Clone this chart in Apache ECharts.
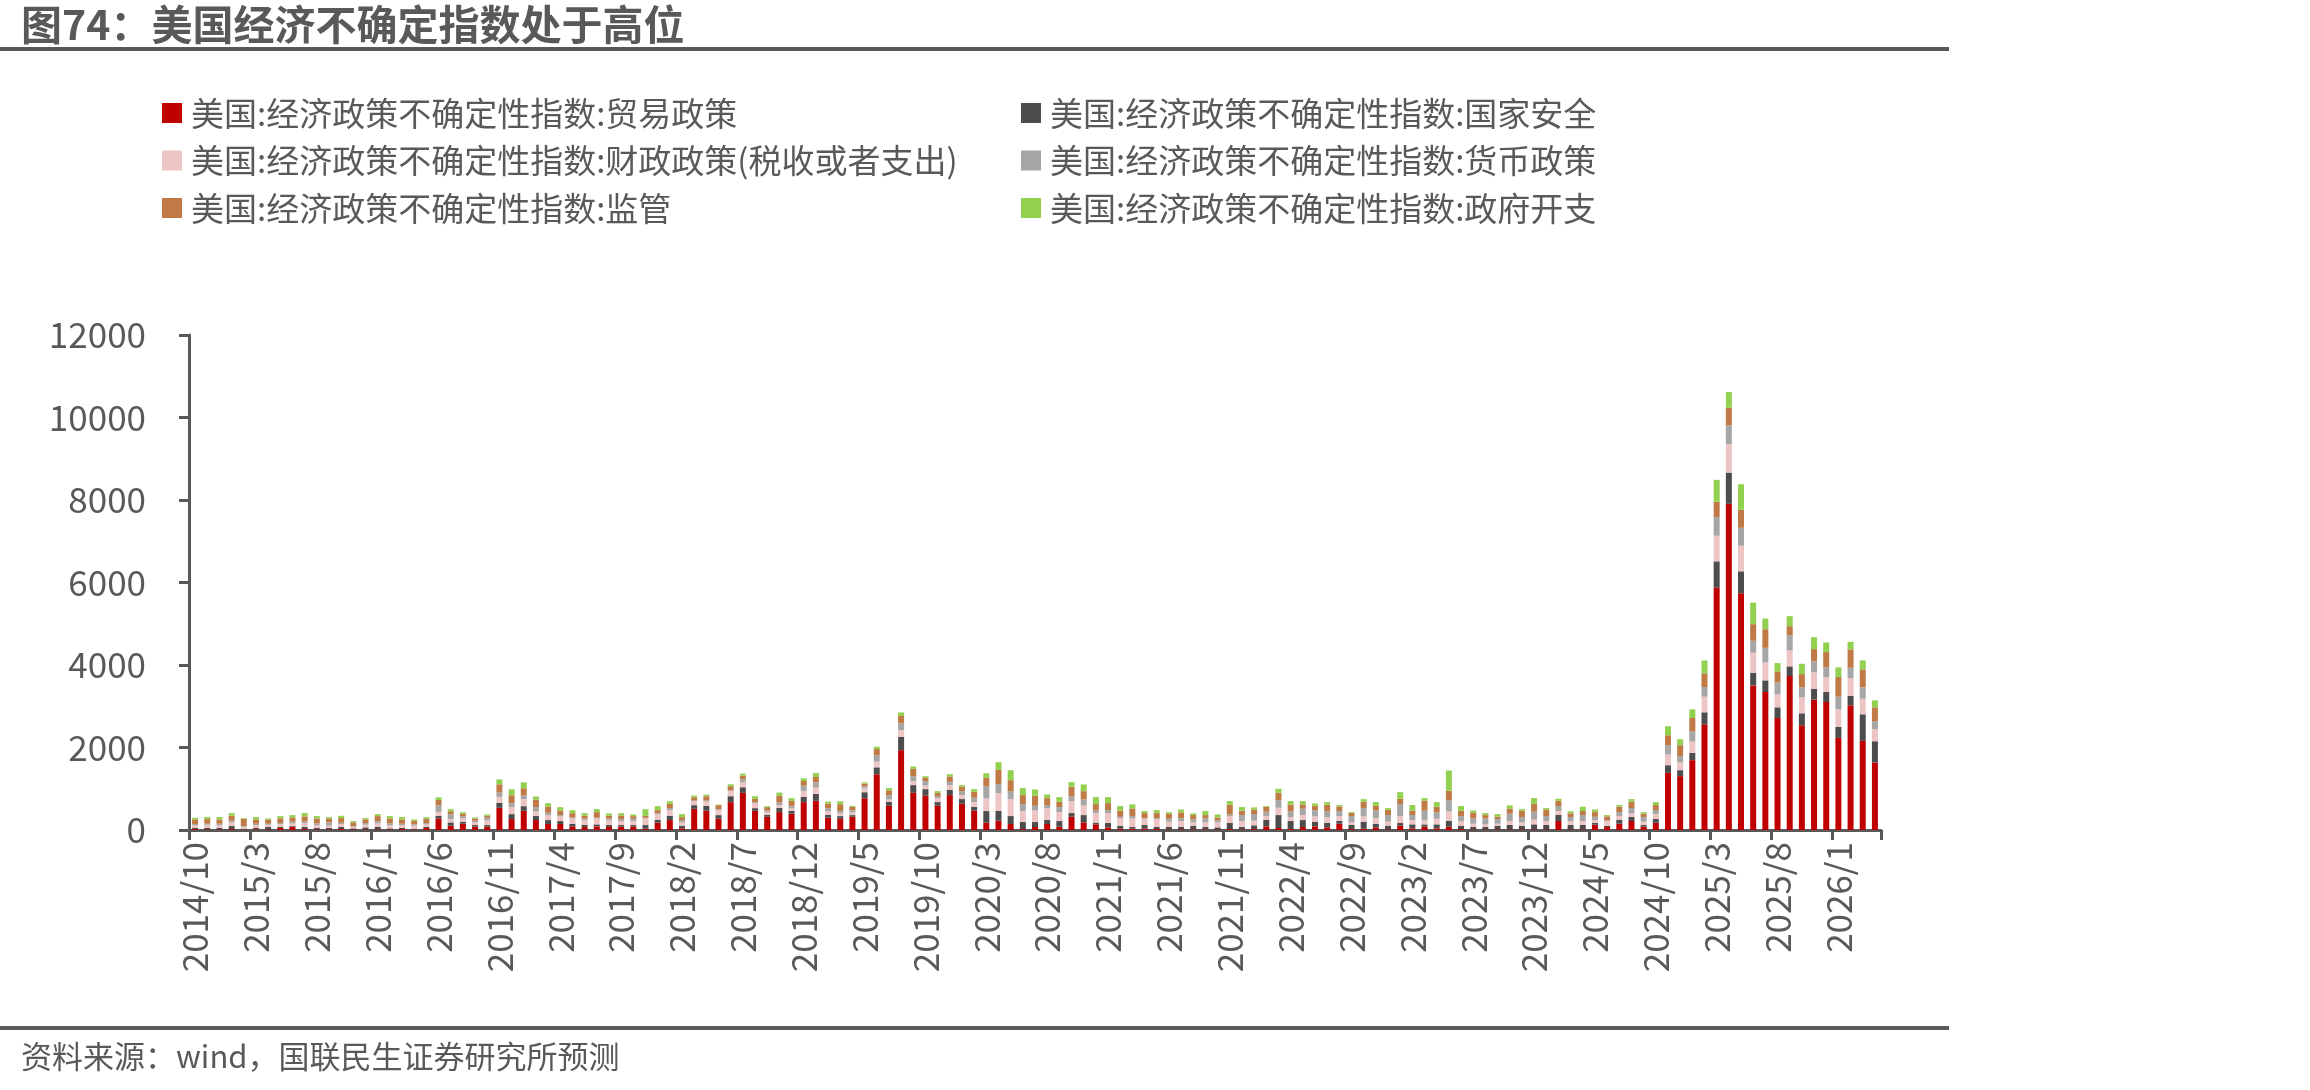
<!DOCTYPE html>
<html>
<head>
<meta charset="utf-8">
<script src="https://cdn.jsdelivr.net/npm/echarts@6/dist/echarts.min.js"></script>
<style>
  html, body { margin: 0; padding: 0; background: #fff; }
  #chart-ctn { width: 2310px; height: 1090px; }
</style>
</head>
<body>
<div id="chart-ctn"></div>
<script>
var months = [
  '2014/10','2014/11','2014/12',
  '2015/1','2015/2','2015/3','2015/4','2015/5','2015/6','2015/7','2015/8','2015/9','2015/10','2015/11','2015/12',
  '2016/1','2016/2','2016/3','2016/4','2016/5','2016/6','2016/7','2016/8','2016/9','2016/10','2016/11','2016/12',
  '2017/1','2017/2','2017/3','2017/4','2017/5','2017/6','2017/7','2017/8','2017/9','2017/10','2017/11','2017/12',
  '2018/1','2018/2','2018/3','2018/4','2018/5','2018/6','2018/7','2018/8','2018/9','2018/10','2018/11','2018/12',
  '2019/1','2019/2','2019/3','2019/4','2019/5','2019/6','2019/7','2019/8','2019/9','2019/10','2019/11','2019/12',
  '2020/1','2020/2','2020/3','2020/4','2020/5','2020/6','2020/7','2020/8','2020/9','2020/10','2020/11','2020/12',
  '2021/1','2021/2','2021/3','2021/4','2021/5','2021/6','2021/7','2021/8','2021/9','2021/10','2021/11','2021/12',
  '2022/1','2022/2','2022/3','2022/4','2022/5','2022/6','2022/7','2022/8','2022/9','2022/10','2022/11','2022/12',
  '2023/1','2023/2','2023/3','2023/4','2023/5','2023/6','2023/7','2023/8','2023/9','2023/10','2023/11','2023/12',
  '2024/1','2024/2','2024/3','2024/4','2024/5','2024/6','2024/7','2024/8','2024/9','2024/10','2024/11','2024/12',
  '2025/1','2025/2','2025/3','2025/4','2025/5','2025/6','2025/7','2025/8','2025/9','2025/10','2025/11','2025/12',
  '2026/1','2026/2','2026/3','2026/4'
];

// 贸易政策
var tradeData = [
  24,16,16,24,8,16,16,48,80,24,16,16,24,16,16,16,16,24,16,48,
  280,104,152,80,80,538,265,466,241,145,145,88,72,88,72,
  80,80,32,177,241,40,514,466,273,675,900,466,321,434,394,675,707,297,273,321,771,1350,586,1935,903,830,588,846,637,467,177,226,145,24,
  72,145,80,322,185,137,64,32,32,32,24,16,16,16,16,16,24,16,24,89,48,24,72,89,64,153,24,32,64,16,105,40,80,40,80,
  24,16,16,16,16,16,16,16,218,16,16,129,72,153,218,80,177,
  1386,1306,1693,2563,5876,7907,5739,3506,3345,2716,3732,2539,3160,3103,2233,3023,2160,1636
];
// 国家安全
var securityData = [
  24,32,32,72,24,40,56,24,16,48,32,32,48,24,48,64,24,24,16,24,
  64,80,48,40,40,120,120,112,104,96,72,64,56,48,48,
  40,40,88,72,104,64,88,120,88,145,137,64,48,104,72,128,169,72,64,40,145,169,96,320,185,161,89,129,113,97,282,234,193,169,
  121,97,137,89,177,40,105,72,40,89,48,56,56,89,56,48,145,56,89,153,314,193,169,105,113,72,105,169,89,89,64,97,56,97,145,
  80,56,56,89,105,89,121,105,145,105,105,48,32,97,97,40,89,
  185,145,177,290,637,758,532,306,282,258,234,290,258,242,266,226,645,516
];
// 财政政策(税收或者支出)
var fiscalData = [
  64,80,72,89,48,64,56,72,64,97,72,56,72,40,64,80,72,64,72,64,
  96,80,80,72,112,145,169,169,104,120,112,128,112,145,120,
  96,96,160,137,137,88,96,104,128,128,120,120,72,64,56,145,153,88,64,64,96,137,56,170,97,89,97,113,97,113,306,435,411,266,
  282,290,218,290,234,234,242,177,210,153,193,129,145,80,113,121,169,145,113,97,177,97,121,137,129,113,56,129,129,97,169,105,97,137,226,
  113,80,64,48,97,80,113,89,97,89,97,64,113,89,89,80,121,
  258,185,274,379,621,685,621,484,435,314,387,387,403,363,427,435,379,290
];
// 货币政策
var monetaryData = [
  32,24,32,40,16,32,24,24,40,40,40,80,32,16,40,48,48,40,32,32,
  160,120,56,32,64,105,96,88,104,56,32,24,40,16,40,
  48,56,16,24,48,48,16,24,16,16,72,24,32,64,64,128,128,72,56,48,48,153,104,160,121,105,48,80,97,105,298,218,193,169,
  113,72,121,113,145,64,72,40,56,16,24,72,72,72,97,48,40,145,161,105,185,137,153,145,145,121,153,201,193,161,290,121,234,153,266,
  121,129,145,113,177,129,193,129,121,105,145,80,16,97,129,113,97,
  226,153,242,234,451,459,435,290,355,290,363,242,266,234,306,250,274,193
];
// 监管
var regulationData = [
  113,113,105,121,177,105,97,113,105,121,121,97,113,89,89,129,121,105,89,105,
  128,72,56,56,48,200,193,177,177,145,112,104,64,137,64,
  88,64,48,72,104,72,80,104,96,96,88,80,80,161,120,112,128,112,169,88,64,153,120,180,177,80,80,129,105,145,201,347,266,218,
  242,169,129,234,201,153,169,153,185,121,121,121,137,105,80,72,234,105,105,121,177,161,105,113,161,113,72,153,113,129,129,105,242,137,234,
  129,137,80,56,121,153,193,153,129,89,97,113,97,129,153,80,121,
  242,266,330,330,371,427,435,403,451,266,226,322,298,371,476,443,435,339
];
// 政府开支
var spendingData = [
  40,48,56,64,16,56,32,56,56,80,56,32,56,32,32,48,56,56,32,40,
  64,48,40,24,32,120,145,145,80,88,80,72,64,72,56,
  56,40,160,96,64,72,40,40,16,48,48,64,24,80,64,64,96,48,72,24,32,56,56,85,56,40,40,56,40,64,113,185,242,169,
  153,89,113,113,161,169,145,105,97,48,72,40,72,40,97,72,89,89,56,16,97,89,80,56,64,32,24,64,89,40,161,137,64,113,492,
  113,56,48,64,80,40,137,40,48,48,105,64,32,40,64,40,72,
  218,145,210,314,532,379,621,524,258,202,242,250,290,234,234,185,218,169
];

var seriesNames = [
  '美国:经济政策不确定性指数:贸易政策',
  '美国:经济政策不确定性指数:国家安全',
  '美国:经济政策不确定性指数:财政政策(税收或者支出)',
  '美国:经济政策不确定性指数:货币政策',
  '美国:经济政策不确定性指数:监管',
  '美国:经济政策不确定性指数:政府开支'
];
var seriesData = [tradeData, securityData, fiscalData, monetaryData, regulationData, spendingData];
var seriesColors = ['#C00000', '#4D4D4D', '#EEC5C5', '#A6A6A6', '#C07A45', '#92D050'];

var font = "'Noto Sans CJK SC', 'Microsoft YaHei', sans-serif";
var txt = '#595959';

var series = [];
for (var k = 0; k < seriesNames.length; k++) {
  series.push({
    name: seriesNames[k],
    type: 'bar',
    stack: 'epu',
    barWidth: 6,
    itemStyle: {color: seriesColors[k]},
    emphasis: {disabled: true},
    data: seriesData[k]
  });
}

var legendBase = {
  orient: 'vertical',
  top: 95,
  padding: 0,
  icon: 'rect',
  itemWidth: 20,
  itemHeight: 20,
  itemGap: 11.5,
  selectedMode: false,
  textStyle: {fontFamily: font, fontSize: 33, color: txt, lineHeight: 36, padding: [0, 0, 0, 4]}
};

var myChart = echarts.init(document.getElementById('chart-ctn'));
var option = {
  backgroundColor: '#fff',
  animation: false,
  textStyle: {fontFamily: font},
  title: {
    text: '图74：美国经济不确定指数处于高位',
    left: 21,
    top: 4,
    padding: 0,
    textStyle: {fontFamily: font, fontSize: 41, fontWeight: 'bold', color: txt}
  },
  legend: [
    Object.assign({}, legendBase, {left: 162, data: [seriesNames[0], seriesNames[2], seriesNames[4]]}),
    Object.assign({}, legendBase, {left: 1021, data: [seriesNames[1], seriesNames[3], seriesNames[5]]})
  ],
  grid: {left: 189, right: 429, top: 335, bottom: 260, containLabel: false},
  xAxis: {
    type: 'category',
    data: months,
    boundaryGap: true,
    axisLine: {lineStyle: {color: txt, width: 3}},
    axisTick: {show: true, interval: 4, length: 10, lineStyle: {color: txt, width: 3}},
    axisLabel: {interval: 4, rotate: 90, margin: 12, fontSize: 35, color: txt, fontFamily: font}
  },
  yAxis: {
    type: 'value',
    min: 0,
    max: 12000,
    interval: 2000,
    axisLine: {show: true, lineStyle: {color: txt, width: 3}},
    axisTick: {show: true, length: 10, lineStyle: {color: txt, width: 3}},
    splitLine: {show: false},
    axisLabel: {
      margin: 43, fontSize: 35, color: txt, fontFamily: font,
      formatter: function (v) { return String(v); }
    }
  },
  graphic: [
    {type: 'rect', shape: {x: 0, y: 47, width: 1949, height: 4}, style: {fill: txt}},
    {type: 'rect', shape: {x: 0, y: 1026, width: 1949, height: 4}, style: {fill: txt}},
    {
      type: 'text', left: 21, top: 1041,
      style: {text: '资料来源：wind，国联民生证券研究所预测', fontFamily: font, fontSize: 31, fill: txt}
    }
  ],
  series: series
};
myChart.setOption(option);
</script>
</body>
</html>
